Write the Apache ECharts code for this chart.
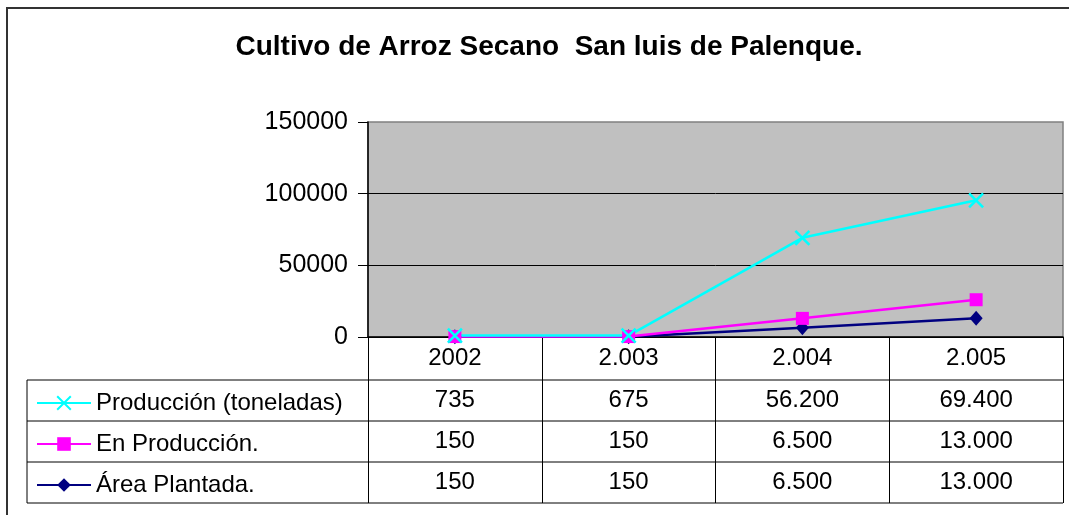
<!DOCTYPE html>
<html>
<head>
<meta charset="utf-8">
<script src="https://cdn.jsdelivr.net/npm/echarts@6/dist/echarts.min.js"></script>
<style>
  html, body { margin: 0; padding: 0; background: #fff; }
  #chart { width: 1069px; height: 515px; }
</style>
</head>
<body>
<div id="chart"></div>
<script>
// data
const years = ["2002", "2.003", "2.004", "2.005"];
const produccion = [735, 675, 56200, 69400];
const enProduccion = [150, 150, 6500, 13000];
const areaPlantada = [150, 150, 6500, 13000];
const yMin = 0, yMax = 150000, yStep = 50000;

const FONT = "'Liberation Sans', Arial, sans-serif";

// 56200 -> "56.200"
function fmt(v) {
  return String(v).replace(/\B(?=(\d{3})+(?!\d))/g, ".");
}

let chart = echarts.init(document.getElementById("chart"));

// stacked in Excel order: bottom series first
let seriesDefs = [
  { name: "Área Plantada.", data: areaPlantada, color: "#000080", symbol: "diamond", size: [13, 15] },
  { name: "En Producción.", data: enProduccion, color: "#FF00FF", symbol: "rect", size: 13 },
  { name: "Producción (toneladas)", data: produccion, color: "#00FFFF", symbol: "path://M0,0L10,10M10,0L0,10", size: 14 }
];

let option = {
  animation: false,
  textStyle: { fontFamily: FONT },
  title: {
    text: "Cultivo de Arroz Secano  San luis de Palenque.",
    left: 544,
    textAlign: "center",
    top: 28,
    textStyle: { fontFamily: FONT, fontSize: 28, fontWeight: "bold", color: "#000" }
  },
  legend: {
    orient: "vertical",
    left: 31,
    top: 386,
    itemWidth: 54,
    itemHeight: 17,
    itemGap: 17,
    selectedMode: false,
    data: ["Producción (toneladas)", "En Producción.", "Área Plantada."],
    textStyle: { fontFamily: FONT, fontSize: 24, color: "#000", lineHeight: 24 }
  },
  grid: {
    left: 368, top: 122, right: 6, bottom: 178,
    show: true,
    backgroundColor: "#C0C0C0",
    borderColor: "#808080",
    borderWidth: 1.5
  },
  xAxis: {
    type: "category",
    data: years,
    boundaryGap: true,
    axisLine: { lineStyle: { color: "#000", width: 1.5 } },
    axisTick: { show: true, length: 166, lineStyle: { color: "#000", width: 1 } },
    axisLabel: { fontFamily: FONT, fontSize: 24, color: "#000", margin: 9 }
  },
  yAxis: {
    type: "value",
    min: yMin,
    max: yMax,
    interval: yStep,
    axisLine: { show: true, lineStyle: { color: "#000", width: 1.5 } },
    axisTick: { show: true, length: 10, lineStyle: { color: "#000" } },
    axisLabel: {
      fontFamily: FONT, fontSize: 25, color: "#000", margin: 20,
      formatter: function (v) { return String(v); }
    },
    splitLine: { show: true, showMaxLine: false, lineStyle: { color: "#000", width: 1 } }
  },
  series: seriesDefs.map(function (s) {
    return {
      type: "line",
      name: s.name,
      data: s.data,
      stack: "total",
      clip: false,
      symbol: s.symbol,
      symbolSize: s.size,
      lineStyle: { color: s.color, width: 2.5 },
      itemStyle: { color: s.color, borderColor: s.color, borderWidth: s.symbol.indexOf("path") === 0 ? 2.5 : 0 }
    };
  })
};

chart.setOption(option);

// data table under the plot: rows follow the legend order
let rows = [produccion, enProduccion, areaPlantada];
let rowTop = 380, rowH = 41;
let tableLeft = 27, tableRight = 1063;
let graphics = [];

// outer chart border
graphics.push({
  type: "rect", silent: true,
  shape: { x: 7, y: 8, width: 1100, height: 600 },
  style: { fill: "none", stroke: "#333", lineWidth: 2 }
});
// horizontal table lines
for (let r = 0; r <= rows.length; r++) {
  let y = rowTop + r * rowH;
  graphics.push({
    type: "line", silent: true,
    shape: { x1: tableLeft, y1: y, x2: tableRight, y2: y },
    style: { stroke: "#000", lineWidth: 1 }
  });
}
// left table border
graphics.push({
  type: "line", silent: true,
  shape: { x1: tableLeft, y1: rowTop, x2: tableLeft, y2: rowTop + rows.length * rowH },
  style: { stroke: "#000", lineWidth: 1 }
});
// cell values
rows.forEach(function (vals, r) {
  vals.forEach(function (v, i) {
    let x = chart.convertToPixel({ xAxisIndex: 0 }, years[i]);
    graphics.push({
      type: "text", silent: true,
      x: x, y: rowTop + r * rowH + rowH / 2,
      style: {
        text: fmt(v), fill: "#000",
        font: "24px " + FONT,
        align: "center", verticalAlign: "middle"
      }
    });
  });
});

chart.setOption({ graphic: graphics });
</script>
</body>
</html>
